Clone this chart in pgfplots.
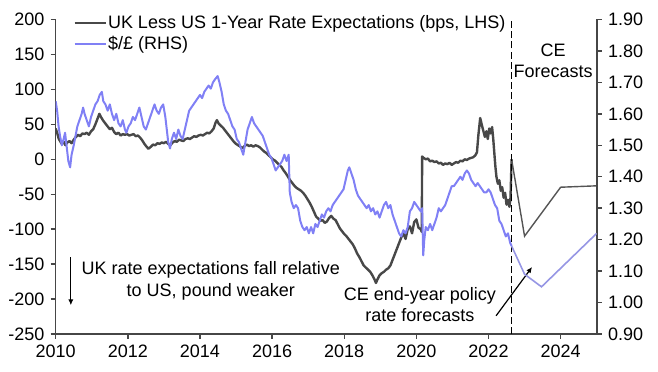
\documentclass[border=0pt]{standalone}
\usepackage{fontspec}
\setmainfont{Liberation Sans}
\usepackage{pgfplots}
\pgfplotsset{compat=1.18}
\usetikzlibrary{arrows.meta}
\definecolor{ukgray}{RGB}{72,72,72}
\definecolor{fgray}{RGB}{85,85,85}
\definecolor{usdblue}{RGB}{128,128,245}
\definecolor{fblue}{RGB}{150,150,228}
\definecolor{axgray}{RGB}{70,70,70}
\begin{document}
\fontsize{9}{10.6}\selectfont
\begin{tikzpicture}[font=\fontsize{9}{10.6}\selectfont]
\pgfplotsset{
  common/.style={
    scale only axis, width=270.5pt, height=157.25pt,
    xmin=2010, xmax=2025,
    tick align=outside, major tick length=2.5pt,
    axis line style={axgray, line width=0.8pt, -},
    major tick style={axgray, line width=0.7pt},
    /pgf/number format/assume math mode=true,
    /pgf/number format/1000 sep={},
    tick label style={font=\fontsize{9}{10.6}\selectfont},
  }
}
\begin{axis}[common, name=ax,
  axis x line*=bottom, axis y line*=left,
  ymin=-250, ymax=200,
  ytick={-250,-200,...,200},
  xtick={2010,2012,...,2024},
  legend style={at={(0.032,1.018)}, anchor=north west, draw=none, fill=none,
     inner sep=0pt, row sep=1.2pt, nodes={inner sep=0.6pt},
     font=\fontsize{9}{10.6}\selectfont},
  legend cell align=left,
  legend image code/.code={\draw[#1] (0pt,0pt) -- (15.5pt,0pt);},
]
\addplot[ukgray, line width=1.2pt, line join=round] table {
2010.00 44
2010.04 38
2010.08 30
2010.12 26
2010.17 22
2010.22 25
2010.27 20
2010.32 24
2010.38 26
2010.44 23
2010.50 28
2010.56 32
2010.62 35
2010.68 33
2010.74 37
2010.80 36
2010.86 38
2010.92 35
2010.98 40
2011.04 43
2011.10 50
2011.16 58
2011.21 65
2011.26 60
2011.32 55
2011.38 51
2011.44 47
2011.50 43
2011.56 45
2011.62 39
2011.68 36
2011.74 38
2011.80 34
2011.86 36
2011.92 35
2011.98 36
2012.04 34
2012.10 35
2012.16 36
2012.22 33
2012.28 34
2012.34 31
2012.40 27
2012.46 22
2012.52 18
2012.57 15
2012.64 18
2012.70 21
2012.76 20
2012.82 23
2012.88 22
2012.94 24
2013.00 23
2013.06 25
2013.12 22
2013.18 20
2013.24 24
2013.30 26
2013.36 25
2013.42 28
2013.48 27
2013.54 26
2013.60 29
2013.66 30
2013.72 29
2013.78 31
2013.84 33
2013.90 32
2013.96 34
2014.02 35
2014.08 34
2014.14 36
2014.20 38
2014.26 37
2014.32 40
2014.38 44
2014.43 52
2014.47 56
2014.52 51
2014.58 48
2014.64 45
2014.70 41
2014.76 37
2014.82 33
2014.88 29
2014.94 25
2015.00 22
2015.06 20
2015.12 18
2015.18 16
2015.24 19
2015.30 21
2015.36 19
2015.42 20
2015.48 18
2015.54 20
2015.60 19
2015.66 17
2015.72 14
2015.78 11
2015.84 9
2015.90 6
2015.96 3
2016.02 0
2016.08 -2
2016.14 -5
2016.20 -8
2016.26 -11
2016.32 -16
2016.38 -20
2016.44 -25
2016.50 -30
2016.56 -34
2016.62 -38
2016.68 -41
2016.74 -43
2016.80 -45
2016.86 -48
2016.92 -52
2016.98 -57
2017.04 -62
2017.10 -68
2017.16 -75
2017.22 -82
2017.28 -85
2017.34 -88
2017.40 -87
2017.46 -91
2017.52 -89
2017.58 -84
2017.64 -81
2017.70 -85
2017.76 -87
2017.82 -93
2017.88 -99
2017.94 -103
2018.00 -107
2018.06 -110
2018.12 -114
2018.18 -118
2018.24 -122
2018.30 -128
2018.36 -135
2018.42 -140
2018.48 -146
2018.54 -152
2018.60 -155
2018.66 -158
2018.72 -161
2018.78 -166
2018.84 -172
2018.88 -177
2018.92 -172
2018.98 -166
2019.04 -163
2019.10 -161
2019.16 -158
2019.22 -156
2019.28 -152
2019.34 -144
2019.40 -136
2019.46 -128
2019.52 -120
2019.58 -112
2019.64 -106
2019.70 -114
2019.76 -100
2019.82 -96
2019.88 -106
2019.94 -90
2020.00 -86
2020.06 -98
2020.12 -100
2020.15 -104
2020.16 4
2020.20 2
2020.26 0
2020.32 1
2020.38 -3
2020.44 -2
2020.50 -4
2020.56 -3
2020.62 -6
2020.68 -5
2020.74 -8
2020.80 -6
2020.86 -7
2020.92 -5
2020.98 -8
2021.04 -6
2021.10 -4
2021.16 -5
2021.22 -2
2021.28 -3
2021.34 0
2021.40 -1
2021.46 1
2021.52 2
2021.58 3
2021.64 6
2021.68 10
2021.72 35
2021.77 59
2021.82 48
2021.86 40
2021.90 32
2021.94 40
2021.98 29
2022.02 44
2022.06 37
2022.10 46
2022.13 30
2022.16 10
2022.19 -10
2022.22 -25
2022.26 -35
2022.30 -30
2022.34 -45
2022.38 -40
2022.42 -55
2022.46 -48
2022.50 -65
2022.54 -58
2022.58 -68
2022.61 -55
2022.64 0
};
\addlegendentry{UK Less US 1-Year Rate Expectations (bps, LHS)}
\addlegendimage{usdblue, line width=1pt}
\addlegendentry{\$/£ (RHS)}
\addplot[fgray, line width=0.7pt] table {
2022.64 0
2023.00 -110
2024.00 -40
2025.00 -38
};
\addplot[black, line width=0.9pt, dash pattern=on 3.5pt off 1.6pt] coordinates {(2022.64,-250) (2022.64,200)};
\node[align=center, inner sep=0pt] at (axis cs:2023.79,141) {CE\\Forecasts};
\node[align=center, inner sep=0pt] at (axis cs:2014.30,-174) {UK rate expectations fall relative\\to US, pound weaker};
\draw[black, line width=0.6pt, -{Latex[length=3pt,width=2.6pt]}] (axis cs:2010.42,-140) -- (axis cs:2010.42,-209);
\node[align=center, inner sep=0pt] at (axis cs:2020.10,-208) {CE end-year policy\\rate forecasts};
\draw[black, line width=0.6pt, -{Latex[length=3pt,width=2.6pt]}] (axis cs:2022.21,-224) -- (axis cs:2023.21,-154);
\end{axis}
\begin{axis}[common,
  axis x line=none, axis y line*=right,
  ymin=0.9, ymax=1.9,
  ytick={0.9,1.0,...,1.95},
  yticklabel style={/pgf/number format/.cd, fixed, fixed zerofill, precision=2},
]
\addplot[usdblue, line width=1pt, line join=round] table {
2010.00 1.64
2010.04 1.61
2010.08 1.56
2010.12 1.53
2010.17 1.50
2010.22 1.52
2010.26 1.54
2010.30 1.50
2010.35 1.45
2010.40 1.43
2010.44 1.47
2010.50 1.50
2010.55 1.53
2010.60 1.56
2010.66 1.58
2010.72 1.60
2010.76 1.62
2010.80 1.60
2010.86 1.58
2010.92 1.56
2010.98 1.59
2011.04 1.61
2011.10 1.63
2011.16 1.64
2011.22 1.66
2011.28 1.67
2011.32 1.64
2011.38 1.63
2011.44 1.61
2011.50 1.63
2011.56 1.60
2011.62 1.58
2011.68 1.60
2011.74 1.57
2011.80 1.56
2011.86 1.58
2011.92 1.55
2011.96 1.54
2012.02 1.56
2012.08 1.57
2012.14 1.59
2012.20 1.58
2012.26 1.60
2012.32 1.62
2012.38 1.59
2012.44 1.56
2012.50 1.55
2012.56 1.57
2012.62 1.59
2012.68 1.61
2012.74 1.63
2012.80 1.61
2012.86 1.60
2012.92 1.62
2012.98 1.63
2013.04 1.59
2013.08 1.55
2013.12 1.51
2013.17 1.49
2013.22 1.52
2013.28 1.54
2013.34 1.52
2013.40 1.55
2013.46 1.53
2013.52 1.52
2013.58 1.55
2013.64 1.58
2013.70 1.61
2013.76 1.62
2013.82 1.63
2013.88 1.64
2013.94 1.65
2014.00 1.66
2014.06 1.65
2014.12 1.67
2014.18 1.68
2014.24 1.69
2014.30 1.68
2014.36 1.70
2014.42 1.71
2014.49 1.72
2014.54 1.70
2014.60 1.67
2014.66 1.63
2014.72 1.61
2014.78 1.60
2014.84 1.58
2014.90 1.56
2014.96 1.55
2015.02 1.52
2015.08 1.51
2015.14 1.49
2015.20 1.47
2015.26 1.51
2015.32 1.55
2015.38 1.57
2015.44 1.59
2015.50 1.57
2015.56 1.56
2015.62 1.55
2015.68 1.54
2015.74 1.53
2015.80 1.51
2015.86 1.49
2015.92 1.47
2015.98 1.46
2016.04 1.44
2016.10 1.42
2016.16 1.43
2016.22 1.44
2016.28 1.45
2016.34 1.47
2016.40 1.45
2016.46 1.47
2016.49 1.35
2016.54 1.32
2016.60 1.30
2016.66 1.31
2016.72 1.30
2016.78 1.26
2016.84 1.24
2016.90 1.23
2016.96 1.24
2017.02 1.22
2017.08 1.24
2017.14 1.22
2017.20 1.25
2017.26 1.24
2017.32 1.26
2017.38 1.28
2017.44 1.27
2017.50 1.29
2017.56 1.30
2017.62 1.29
2017.68 1.31
2017.74 1.32
2017.80 1.33
2017.86 1.34
2017.92 1.35
2017.98 1.36
2018.04 1.39
2018.10 1.42
2018.14 1.43
2018.20 1.41
2018.26 1.39
2018.32 1.36
2018.38 1.34
2018.44 1.33
2018.50 1.32
2018.56 1.31
2018.62 1.30
2018.68 1.31
2018.74 1.29
2018.80 1.30
2018.86 1.28
2018.92 1.29
2018.98 1.27
2019.04 1.29
2019.10 1.31
2019.16 1.32
2019.22 1.30
2019.28 1.31
2019.34 1.28
2019.40 1.26
2019.46 1.24
2019.52 1.22
2019.58 1.21
2019.64 1.23
2019.70 1.22
2019.76 1.24
2019.82 1.29
2019.88 1.30
2019.94 1.32
2020.00 1.31
2020.06 1.30
2020.12 1.29
2020.16 1.30
2020.19 1.15
2020.22 1.20
2020.26 1.24
2020.32 1.23
2020.38 1.25
2020.44 1.23
2020.50 1.25
2020.56 1.27
2020.62 1.30
2020.68 1.29
2020.74 1.30
2020.80 1.31
2020.86 1.33
2020.92 1.35
2020.98 1.37
2021.04 1.37
2021.10 1.38
2021.16 1.39
2021.22 1.40
2021.28 1.39
2021.34 1.41
2021.40 1.42
2021.46 1.41
2021.52 1.39
2021.58 1.38
2021.64 1.37
2021.70 1.38
2021.76 1.37
2021.82 1.36
2021.88 1.35
2021.94 1.35
2022.00 1.36
2022.06 1.35
2022.12 1.33
2022.18 1.31
2022.24 1.30
2022.30 1.26
2022.36 1.25
2022.42 1.23
2022.48 1.21
2022.54 1.22
2022.60 1.19
2022.64 1.18
};
\addplot[fblue, line width=0.8pt] table {
2022.64 1.18
2023.00 1.09
2023.47 1.05
2025.00 1.22
};
\end{axis}
\pgfresetboundingbox
\path (ax.south west) +(-27.85pt,-19pt) (ax.north east) +(30.65pt,9.75pt);
\end{tikzpicture}
\end{document}
